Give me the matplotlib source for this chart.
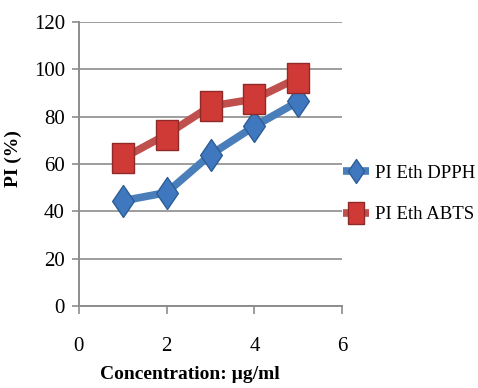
import matplotlib.pyplot as plt

# concentration (ug/ml) and inhibition percentages
conc = [1, 2, 3, 4, 5]
dpph = [44.5, 48, 64, 76, 86.5]
abts = [62.5, 72.5, 84.5, 87.5, 96.5]

x_ticks = [0, 2, 4, 6]
y_ticks = [0, 20, 40, 60, 80, 100, 120]

plt.rcParams['font.family'] = ['Liberation Serif', 'DejaVu Serif']

fig = plt.figure(figsize=(4.78, 3.88), dpi=100)
ax = fig.add_axes([0.165, 0.211, 0.551, 0.732])

blue = '#4A7EBB'
red = '#C0504D'

# tall markers, like the stretched ones of the original chart
diamond = [(0, -1), (0.68, 0), (0, 1), (-0.68, 0), (0, -1)]
rect = [(-0.7, -1), (0.7, -1), (0.7, 1), (-0.7, 1), (-0.7, -1)]

ax.plot(conc, dpph, color=blue, lw=5.5, marker=diamond, markersize=23,
        markerfacecolor='#3F78BF', markeredgecolor='#2C5D96', markeredgewidth=1,
        label='PI Eth DPPH', zorder=3, solid_capstyle='round')
ax.plot(conc, abts, color=red, lw=5.5, marker=rect, markersize=22,
        markerfacecolor='#D03A36', markeredgecolor='#8E2A27', markeredgewidth=1,
        label='PI Eth ABTS', zorder=4, solid_capstyle='round')

ax.set_xlim(0, 6)
ax.set_ylim(0, 120)
ax.set_xticks(x_ticks)
ax.set_yticks(y_ticks)

ax.grid(axis='y', color='#8C8C8C', lw=1.2)
ax.set_axisbelow(True)
for s in ['top', 'right']:
    ax.spines[s].set_visible(False)
for s in ['left', 'bottom']:
    ax.spines[s].set_color('#8C8C8C')
    ax.spines[s].set_linewidth(1.4)

ax.tick_params(axis='x', colors='#8C8C8C', length=6, width=1.2, pad=16,
               labelsize=15, labelcolor='black')
ax.tick_params(axis='y', colors='#8C8C8C', length=5, width=1.2, pad=5,
               labelsize=15, labelcolor='black')

ax.set_xlabel('Concentration: \u00b5g/ml', fontsize=14, fontweight='bold')
ax.xaxis.set_label_coords(0.42, -0.21)
ax.set_ylabel('PI (%)', fontsize=14, fontweight='bold')
ax.yaxis.set_label_coords(-0.215, 0.52)

leg = fig.legend(loc='center left', bbox_to_anchor=(0.718, 0.5), frameon=False,
                 fontsize=13.5, handlelength=1.4, handletextpad=0.3,
                 labelspacing=1.3, borderaxespad=0, borderpad=0, markerscale=0.75)
for line in leg.get_lines():
    line.set_solid_capstyle('butt')

fig.savefig('out.png', dpi=100)
